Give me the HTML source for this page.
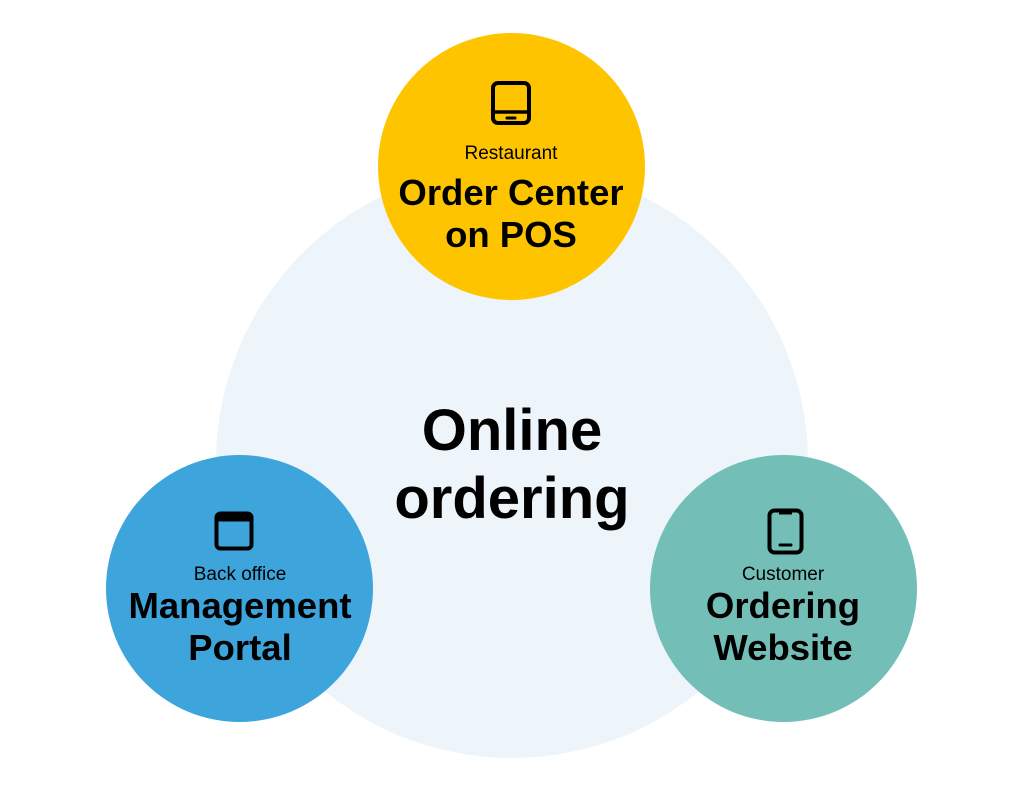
<!DOCTYPE html>
<html><head><style>
html,body{margin:0;padding:0;background:#fff;}
body{width:1023px;height:794px;position:relative;overflow:hidden;font-family:"Liberation Sans",sans-serif;}
.c{position:absolute;border-radius:50%;}
.t{position:absolute;text-align:center;width:300px;color:#000;white-space:nowrap;}
.s{font-size:19px;}
.b{font-size:36.5px;font-weight:bold;line-height:42px;}
</style></head><body>
<div class="c" style="left:216px;top:166px;width:592px;height:592px;background:#EDF5FB"></div>
<div class="c" style="left:378px;top:33px;width:267px;height:267px;background:#FFC400"></div>
<div class="c" style="left:106px;top:455px;width:267px;height:267px;background:#3DA5DC"></div>
<div class="c" style="left:650px;top:455px;width:267px;height:267px;background:#73BFB8"></div>

<div class="t" style="left:362px;top:397px;font-size:58px;font-weight:bold;line-height:68px;">Online<br>ordering</div>

<svg style="position:absolute;left:490px;top:80px" width="42" height="46" viewBox="0 0 42 46">
<rect x="3" y="3" width="36" height="40" rx="5" fill="none" stroke="#000" stroke-width="4"/>
<line x1="3" y1="32" x2="39" y2="32" stroke="#000" stroke-width="3.5"/>
<line x1="17" y1="38" x2="25" y2="38" stroke="#000" stroke-width="3" stroke-linecap="round"/>
</svg>
<div class="t s" style="left:361px;top:143px">Restaurant</div>
<div class="t b" style="left:361px;top:172px">Order Center<br>on POS</div>

<svg style="position:absolute;left:214px;top:511px" width="40" height="40" viewBox="0 0 40 40">
<rect x="2.5" y="2.5" width="35" height="35" rx="4" fill="none" stroke="#000" stroke-width="4"/>
<rect x="2.5" y="2.5" width="35" height="8" fill="#000"/>
</svg>
<div class="t s" style="left:90px;top:564px">Back office</div>
<div class="t b" style="left:90px;top:585px">Management<br>Portal</div>

<svg style="position:absolute;left:766px;top:508px" width="40" height="47" viewBox="0 0 40 47">
<rect x="3.5" y="2.5" width="32" height="42" rx="5" fill="none" stroke="#000" stroke-width="4"/>
<rect x="13" y="2.5" width="13" height="4" fill="#000"/>
<line x1="14" y1="37" x2="25" y2="37" stroke="#000" stroke-width="3" stroke-linecap="round"/>
</svg>
<div class="t s" style="left:633px;top:564px">Customer</div>
<div class="t b" style="left:633px;top:585px">Ordering<br>Website</div>
</body></html>
